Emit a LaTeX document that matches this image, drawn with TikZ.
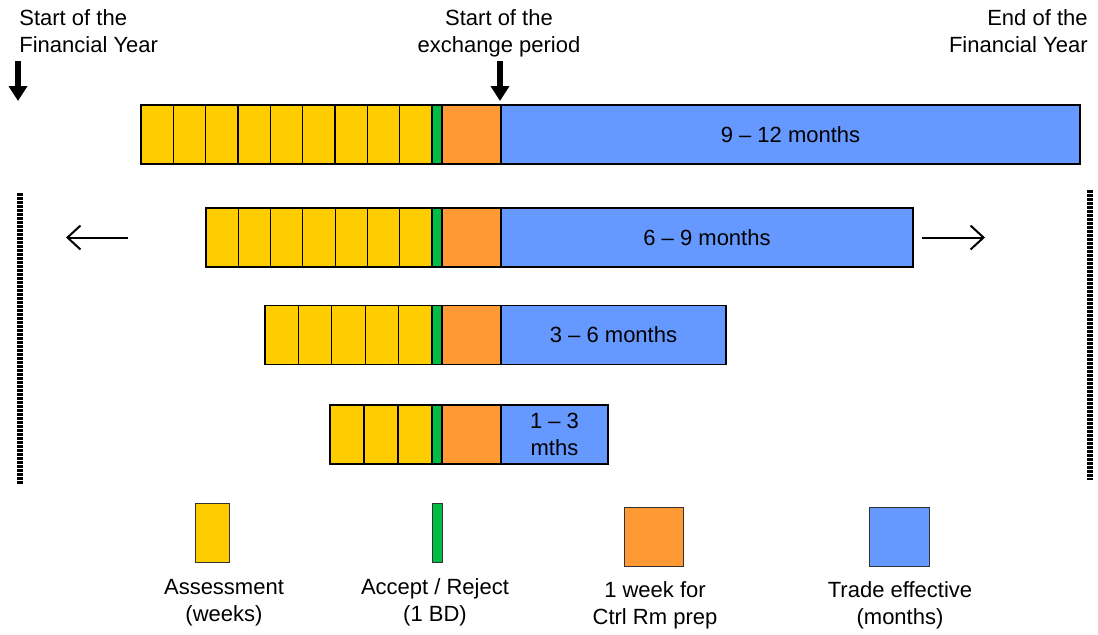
\documentclass[tikz,border=0pt]{standalone}
\usepackage{fontspec}
\setmainfont{Liberation Sans}
\usetikzlibrary{arrows.meta, positioning}

\definecolor{wkyellow}{HTML}{FFCC00}
\definecolor{bdgreen}{HTML}{00BB44}
\definecolor{prorange}{HTML}{FF9933}
\definecolor{trblue}{HTML}{6699FF}

\begin{document}
\begin{tikzpicture}[
    x=0.5pt, y=-0.5pt,
    font=\fontsize{11pt}{13.5pt}\selectfont,
    node distance=0pt,
cell/.style  = {draw, line width=0.6pt, outer sep=0pt, inner sep=0pt, minimum height=29.5pt},
week/.style  = {cell, fill=wkyellow},
bday/.style  = {cell, fill=bdgreen, minimum width=5pt},
prep/.style  = {cell, fill=prorange, minimum width=29.5pt},
trade/.style = {cell, fill=trblue, align=center},
key/.style   = {draw=black!80, line width=0.5pt, inner sep=0pt, minimum height=29.5pt},
note/.style  = {inner sep=0pt, align=center},
down/.style  = {line width=2.8pt, -{Triangle[length=7.5pt, width=9pt]}},
slide/.style = {line width=1pt, -{Straight Barb[length=6.5pt, width=12pt]}},
fence/.style = {line width=3pt, dash pattern=on 1.4pt off 0.6pt}
                        ]
\useasboundingbox (0,0) rectangle (1098,634);
% the four bars
\foreach \row/\yc/\xl/\cells/\xr/\txt in {
    1/134.5/141/9/1080/{9 -- 12 months},
    2/237.5/206/7/913/{6 -- 9 months},
    3/335/265/5/726/{3 -- 6 months},
    4/434.5/330/3/608/{1 -- 3\\mths}}
{
  \pgfmathsetmacro\cw{(432-\xl)/\cells}
  \foreach \i in {1,...,\cells}
    \node[week, minimum width=\cw*0.5pt, anchor=west] (w\row-\i) at ({\xl+(\i-1)*\cw},\yc) {};
  \node[bday, right=of w\row-\cells] (g\row) {};
  \node[prep, right=of g\row]        (o\row) {};
  \node[trade, right=of o\row, minimum width={(\xr-501)*0.5pt}] (t\row) {\txt};
}
% headings
\node[note, align=left,  anchor=north west] (fyS) at (19,9)   {Start of the\\Financial Year};
\node[note,              anchor=north]      (xpS) at (499,9)  {Start of the\\exchange period};
\node[note, align=right, anchor=north east] (fyE) at (1088,9) {End of the\\Financial Year};
%
\coordinate (fy0) at (18,61);
\coordinate (fy1) at (18,101);
\coordinate (xp0) at (500,61);
\draw[down] (fy0) -- (fy1);
\draw[down] (xp0) -- ([yshift=2pt] xp0 |- o1.north);
\draw[slide] ([xshift=-39pt] w2-1.west) -- ++(-62,0);
\draw[slide] ([xshift=4.5pt] t2.east)   -- ++(63,0);
\draw[fence] (20,193)   -- (20,484);
\draw[fence] (1090,190) -- (1090,480);
% legend
\node[key, fill=wkyellow, minimum width=17pt]   (kw) at (212,532.5)   {};
\node[key, fill=bdgreen,  minimum width=5pt]    (kb) at (437,532.5)   {};
\node[key, fill=prorange, minimum width=29.5pt] (kp) at (653.5,536.5) {};
\node[key, fill=trblue,   minimum width=30pt]   (kt) at (899,536.5)   {};
\node[note, below=8pt of kw, xshift=6pt]     (lw) {Assessment\\(weeks)};
\node[note, below=8pt of kb, xshift=-1pt]    (lb) {Accept / Reject\\(1 BD)};
\node[note, below=7.5pt of kp, xshift=0.75pt] (lp) {1 week for\\Ctrl Rm prep};
\node[note, below=7.5pt of kt, xshift=0.5pt]  (lt) {Trade effective\\(months)};
\end{tikzpicture}
\end{document}
